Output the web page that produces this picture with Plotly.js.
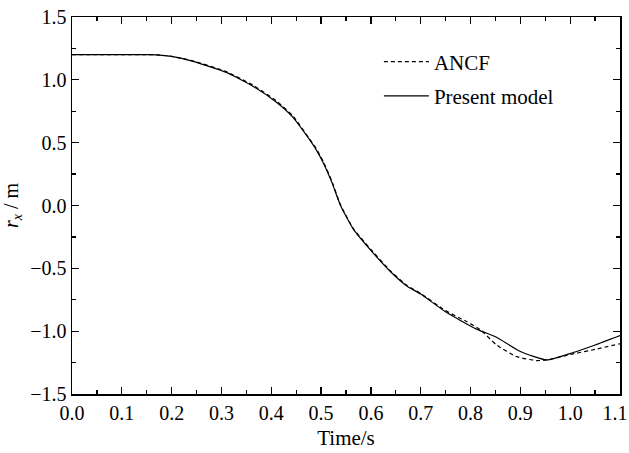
<!DOCTYPE html>
<html>
<head>
<meta charset="utf-8">
<script src="https://cdn.plot.ly/plotly-3.0.1.min.js"></script>
<style>html,body{margin:0;padding:0;background:#fff;}#chart{width:629px;height:453px;}</style>
</head>
<body>
<div id="chart"></div>
<script>
// Present model (solid)
var timePresent = [0, 0.05, 0.10, 0.15, 0.17, 0.20, 0.243, 0.31, 0.364, 0.411, 0.444, 0.474, 0.49, 0.505, 0.522, 0.539, 0.565, 0.599, 0.639, 0.672, 0.70, 0.749, 0.812, 0.852, 0.90, 0.953, 1.006, 1.05, 1.10];
var rxPresent = [1.2, 1.2, 1.2, 1.2, 1.199, 1.186, 1.147, 1.059, 0.947, 0.82, 0.7, 0.54, 0.445, 0.335, 0.18, 0.0, -0.19, -0.353, -0.525, -0.64, -0.705, -0.844, -0.984, -1.048, -1.162, -1.229, -1.17, -1.11, -1.035];
// ANCF (dashed)
var timeANCF = [0, 0.05, 0.10, 0.15, 0.17, 0.20, 0.243, 0.31, 0.364, 0.411, 0.444, 0.474, 0.49, 0.505, 0.522, 0.539, 0.565, 0.599, 0.639, 0.672, 0.70, 0.749, 0.792, 0.82, 0.852, 0.892, 0.932, 0.953, 1.006, 1.05, 1.10];
var rxANCF = [1.2, 1.2, 1.2, 1.2, 1.199, 1.187, 1.15, 1.065, 0.955, 0.83, 0.71, 0.545, 0.455, 0.345, 0.19, 0.005, -0.185, -0.345, -0.52, -0.635, -0.70, -0.835, -0.923, -0.99, -1.109, -1.202, -1.234, -1.229, -1.181, -1.145, -1.10];
var seriesNames = ['ANCF', 'Present model'];
var xTickVals = [0, 0.1, 0.2, 0.3, 0.4, 0.5, 0.6, 0.7, 0.8, 0.9, 1.0, 1.1];
var xTickText = ['0.0', '0.1', '0.2', '0.3', '0.4', '0.5', '0.6', '0.7', '0.8', '0.9', '1.0', '1.1\u2002'];
var yTickVals = [-1.5, -1.0, -0.5, 0.0, 0.5, 1.0, 1.5];
var yTickText = ['\u22121.5', '\u22121.0', '\u22120.5', '0.0', '0.5', '1.0', '1.5'];

var FONT = 'Liberation Serif, Times New Roman, serif';

var traces = [
  {x: timeANCF, y: rxANCF, name: seriesNames[0], mode: 'lines', legendgroup: 'a',
   line: {color: '#000', width: 1.2, dash: '4px,3px', shape: 'spline', smoothing: 0.5}},
  {x: timePresent, y: rxPresent, name: seriesNames[1], mode: 'lines', legendgroup: 'b',
   line: {color: '#000', width: 1.2, shape: 'spline', smoothing: 0.5}}
];

var axisCommon = {
  showgrid: false, zeroline: false, showline: true, linecolor: '#000', linewidth: 1.5,
  mirror: 'ticks', ticks: 'inside', ticklen: 7, tickwidth: 1.2, tickcolor: '#000',
  tickfont: {family: FONT, size: 20, color: '#000'}
};

var layout = {
  width: 629, height: 453,
  margin: {l: 72, r: 9, t: 17, b: 59},
  paper_bgcolor: '#fff', plot_bgcolor: '#fff',
  font: {family: FONT, size: 20, color: '#000'},
  showlegend: true,
  legend: {x: 0.56, xanchor: 'left', y: 0.935, yanchor: 'top', bgcolor: 'rgba(0,0,0,0)',
           font: {family: FONT, size: 21, color: '#000'}, traceorder: 'grouped', tracegroupgap: 4, itemwidth: 45},
  xaxis: Object.assign({}, axisCommon, {
    range: [0, 1.1], tickvals: xTickVals, ticktext: xTickText, ticklabeloverflow: 'allow',
    minor: {dtick: 0.05, tick0: 0, ticks: 'inside', ticklen: 4, tickwidth: 1.2, tickcolor: '#000'},
    title: {text: 'Time/s', font: {family: FONT, size: 21, color: '#000'}, standoff: 8}
  }),
  yaxis: Object.assign({}, axisCommon, {
    range: [-1.5, 1.5], tickvals: yTickVals, ticktext: yTickText,
    minor: {dtick: 0.25, tick0: 0, ticks: 'inside', ticklen: 4, tickwidth: 1.2, tickcolor: '#000'},
    title: {text: '<i>r</i><sub><i>x</i></sub> / m', font: {family: FONT, size: 20, color: '#000'}, standoff: 6}
  })
};

Plotly.newPlot('chart', traces, layout, {staticPlot: true, displayModeBar: false});
</script>
</body>
</html>
